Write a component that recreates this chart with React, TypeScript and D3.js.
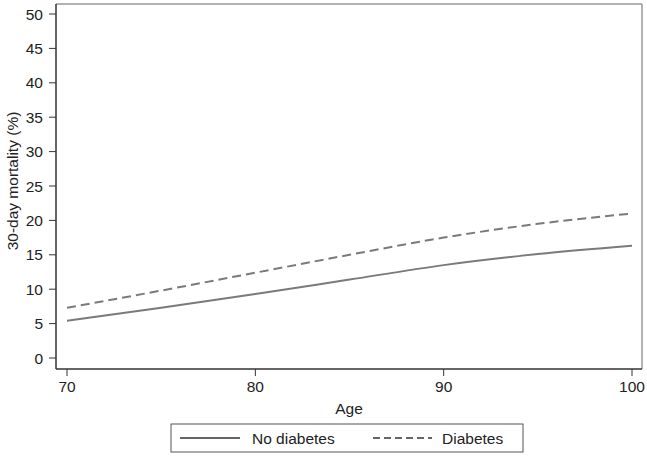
import React from "react";
import * as d3 from "d3";

const ages = [70, 75, 80, 85, 90, 95, 100];
const noDiabetes = [5.4, 7.3, 9.3, 11.4, 13.5, 15.1, 16.3];
const diabetes = [7.3, 9.8, 12.4, 15.0, 17.5, 19.5, 21.0];
const xTicks = [70, 80, 90, 100];
const yTicks = [0, 5, 10, 15, 20, 25, 30, 35, 40, 45, 50];
const seriesNames = ["No diabetes", "Diabetes"];

const W = 647;
const H = 459;
const frame = { left: 56, top: 4, right: 642, bottom: 369 };

export default function App() {
  const x = d3.scaleLinear().domain([70, 100]).range([67, 632]);
  const y = d3.scaleLinear().domain([0, 50]).range([358, 14]);
  const line = d3
    .line<number>()
    .x((_, i) => x(ages[i]))
    .y((d) => y(d))
    .curve(d3.curveMonotoneX);
  const font = "Liberation Sans, Arial, Helvetica, sans-serif";
  const textCol = "#222";
  const lineCol = "#7a7a7a";
  const fs = 15.5;
  return (
    <svg
      width={W}
      height={H}
      style={{ position: "absolute", left: 0, top: 0, background: "#fff" }}
      fontFamily={font}
    >
      <rect x={0} y={0} width={W} height={H} fill="#fff" />
      {/* frame */}
      <line x1={frame.left} x2={frame.right} y1={frame.top} y2={frame.top} stroke="#999" strokeWidth={1.5} />
      <line x1={frame.right} x2={frame.right} y1={frame.top} y2={frame.bottom} stroke="#999" strokeWidth={1.5} />
      <line x1={frame.left} x2={frame.left} y1={frame.top} y2={frame.bottom} stroke="#333" strokeWidth={1.5} />
      <line x1={frame.left} x2={frame.right} y1={frame.bottom} y2={frame.bottom} stroke="#333" strokeWidth={1.5} />
      {/* y ticks */}
      {yTicks.map((t) => (
        <g key={"y" + t}>
          <line x1={frame.left - 7} x2={frame.left} y1={y(t)} y2={y(t)} stroke="#333" strokeWidth={1} />
          <text x={frame.left - 13} y={y(t)} dy="0.36em" textAnchor="end" fontSize={fs} fill={textCol}>
            {t}
          </text>
        </g>
      ))}
      {/* x ticks */}
      {xTicks.map((t) => (
        <g key={"x" + t}>
          <line x1={x(t)} x2={x(t)} y1={frame.bottom} y2={frame.bottom + 7} stroke="#333" strokeWidth={1} />
          <text x={x(t)} y={392} textAnchor="middle" fontSize={fs} fill={textCol}>
            {t}
          </text>
        </g>
      ))}
      <text x={(frame.left + frame.right) / 2} y={414} textAnchor="middle" fontSize={fs} fill={textCol}>
        Age
      </text>
      <text
        transform={`translate(18, ${(y(0) + y(50)) / 2 - 5}) rotate(-90)`}
        textAnchor="middle"
        fontSize={fs}
        fill={textCol}
      >
        30-day mortality (%)
      </text>
      {/* lines */}
      <path d={line(noDiabetes) || ""} fill="none" stroke={lineCol} strokeWidth={2} />
      <path d={line(diabetes) || ""} fill="none" stroke={lineCol} strokeWidth={2} strokeDasharray="9,5" />
      {/* legend */}
      <rect x={171} y={424} width={352} height={28} fill="#fff" stroke="#555" strokeWidth={1} />
      <line x1={180} x2={240} y1={438} y2={438} stroke="#333" strokeWidth={1.3} />
      <text x={252} y={443.5} fontSize={fs} fill={textCol}>
        {seriesNames[0]}
      </text>
      <line x1={373} x2={432} y1={438} y2={438} stroke="#333" strokeWidth={1.3} strokeDasharray="7,4" />
      <text x={442} y={443.5} fontSize={fs} fill={textCol}>
        {seriesNames[1]}
      </text>
    </svg>
  );
}
